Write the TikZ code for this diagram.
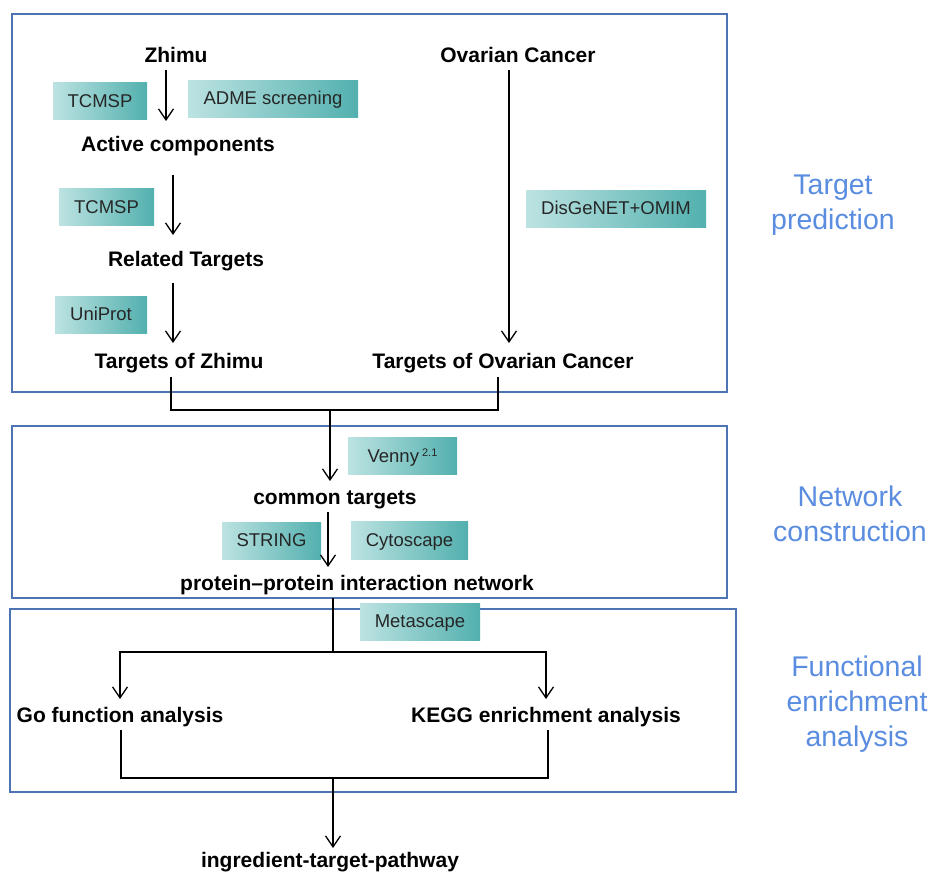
\documentclass[tikz,border=0pt]{standalone}
\usepackage{fontspec}
\setmainfont{Liberation Sans}
\usetikzlibrary{arrows.meta}
\definecolor{gleft}{HTML}{BCE3E2}
\definecolor{gright}{HTML}{52B0AE}
\definecolor{frame}{HTML}{4F74B4}
\definecolor{side}{HTML}{5A8DE0}
\tikzset{
  lbl/.style={font=\fontsize{21}{24}\selectfont\bfseries, inner sep=0pt, text height=19pt, text depth=4pt},
  tool/.style={font=\fontsize{18.5}{20}\selectfont, minimum height=37pt, inner sep=0pt, text height=15pt, text depth=3pt, left color=gleft, right color=gright, shading angle=90, text=black!85},
  frm/.style={draw=frame, line width=1.3pt},
  sidelbl/.style={font=\fontsize{28.5}{35}\selectfont, text=side, align=center, inner sep=0pt},
  arr/.style={line width=1.4pt, -{Straight Barb[length=11pt,width=15pt,line width=1.3pt]}},
  ln/.style={line width=1.4pt}
}
\begin{document}
\begin{tikzpicture}[x=1pt,y=-1pt]
\useasboundingbox (0,0) rectangle (935,874);
\fill[white] (0,0) rectangle (935,874);
% frames
\draw[frm] (12,14) rectangle (727,392);
\draw[frm] (12,426) rectangle (727,598);
\draw[frm] (10,609) rectangle (736,792);
% side labels
\node[sidelbl] (sp) at (833,205) {Target\\prediction};
\node[sidelbl] (sn) at (850,514) {Network\\construction};
\node[sidelbl] (sf) at (857,704) {Functional\\enrichment\\analysis};
% text nodes
\node[lbl] (zhimu) at (176,55) {Zhimu};
\node[lbl] (ovar) at (518,55) {Ovarian Cancer};
\node[lbl] (active) at (178,144) {Active components};
\node[lbl] (related) at (186,259) {Related Targets};
\node[lbl] (tzhimu) at (179,361) {Targets of Zhimu};
\node[lbl] (tovar) at (503,361) {Targets of Ovarian Cancer};
\node[lbl] (common) at (335,497) {common targets};
\node[lbl] (ppi) at (357,583) {protein--protein interaction network};
\node[lbl] (go) at (120,715) {Go function analysis};
\node[lbl] (kegg) at (546,715) {KEGG enrichment analysis};
\node[lbl] (itp) at (330,860) {ingredient-target-pathway};
% tool boxes
\node[tool, minimum width=94pt] (tcmsp1) at (100,101.5) {TCMSP};
\node[tool, minimum width=170pt] (adme) at (273,99) {ADME screening};
\node[tool, minimum width=95pt] (tcmsp2) at (106.5,207.5) {TCMSP};
\node[tool, minimum width=92pt] (uniprot) at (101,315) {UniProt};
\node[tool, minimum width=180pt] (disg) at (616,209) {DisGeNET+OMIM};
\node[tool, minimum width=109pt] (venny) at (402.5,456.5) {Venny\,\raisebox{0.6ex}{\fontsize{11}{12}\selectfont 2.1}};
\node[tool, minimum width=99pt] (string) at (271.5,541) {STRING};
\node[tool, minimum width=117pt] (cyto) at (409.5,540.5) {Cytoscape};
% arrows top
\coordinate (a1s) at (166,70);  \coordinate (a1e) at (166,121);
\coordinate (a2s) at (173,175); \coordinate (a2e) at (173,235);
\coordinate (a3s) at (173,283); \coordinate (a3e) at (173,343);
\coordinate (a4s) at (509,70);  \coordinate (a4e) at (509,343);
\draw[arr] (a1s) -- (a1e);
\draw[arr] (a2s) -- (a2e);
\draw[arr] (a3s) -- (a3e);
\draw[arr] (a4s) -- (a4e);
% merge
\coordinate (m1) at (171,377); \coordinate (m2) at (498,377);
\coordinate (mj) at (330,410); \coordinate (mc) at (330,481);
\draw[ln] (m1) |- (mj) -| (m2);
\draw[arr] (mj) -- (mc);
\coordinate (b1s) at (328,512); \coordinate (b1e) at (328,567);
\draw[arr] (b1s) -- (b1e);
% split
\coordinate (s0) at (333,598); \coordinate (sj) at (333,652);
\coordinate (sl) at (120,699); \coordinate (sr) at (546,699);
\draw[ln] (s0) -- (sj);
\draw[arr] (sj) -| (sl);
\draw[arr] (sj) -| (sr);
\node[tool, minimum width=120pt] (meta) at (420,621.5) {Metascape};
% join
\coordinate (j1) at (121,730); \coordinate (j2) at (548,730);
\coordinate (jj) at (333,778); \coordinate (je) at (333,848);
\draw[ln] (j1) |- (jj) -| (j2);
\draw[arr] (jj) -- (je);
\end{tikzpicture}
\end{document}
